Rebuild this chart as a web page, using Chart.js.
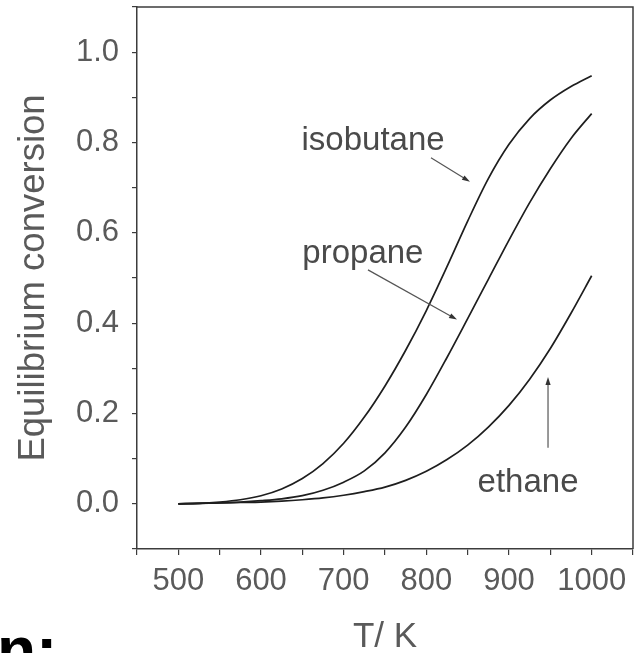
<!DOCTYPE html>
<html>
<head>
<meta charset="utf-8">
<script src="https://cdn.jsdelivr.net/npm/chart.js@4"></script>
<style>
  html, body { margin: 0; padding: 0; background: #ffffff; }
  #wrap { width: 634px; height: 653px; position: relative; }
</style>
</head>
<body>
<div id="wrap"><canvas id="c" width="634" height="653"></canvas></div>
<script>
// ---- data ----
const temperatures = [500, 525, 550, 575, 600, 625, 650, 675, 700, 725, 750, 775, 800, 825, 850, 875, 900, 925, 950, 975, 1000];
const isobutane = [0.000, 0.001, 0.004, 0.009, 0.018, 0.033, 0.056, 0.089, 0.134, 0.192, 0.261, 0.340, 0.428, 0.525, 0.626, 0.720, 0.796, 0.853, 0.894, 0.924, 0.948];
const propane   = [0.000, 0.001, 0.002, 0.004, 0.007, 0.011, 0.018, 0.030, 0.048, 0.073, 0.113, 0.170, 0.242, 0.324, 0.410, 0.497, 0.584, 0.667, 0.742, 0.809, 0.864];
const ethane    = [0.000, 0.001, 0.002, 0.003, 0.004, 0.006, 0.009, 0.013, 0.019, 0.027, 0.037, 0.052, 0.072, 0.098, 0.130, 0.170, 0.218, 0.276, 0.344, 0.422, 0.505];
const seriesNames = ['isobutane', 'propane', 'ethane'];
const xTickLabels = ['500', '600', '700', '800', '900', '1000'];
const yTickLabels = ['0.0', '0.2', '0.4', '0.6', '0.8', '1.0'];
const xTitle = 'T/ K';
const yTitle = 'Equilibrium conversion';

const toPts = (arr) => temperatures.map((t, i) => ({ x: t, y: arr[i] }));

// annotation placement in data coordinates
const labelSpecs = [
  { text: seriesNames[0], x: 649, y: 0.784 },
  { text: seriesNames[1], x: 650, y: 0.534 },
  { text: seriesNames[2], x: 862, y: 0.027 }
];
const arrowSpecs = [
  { x0: 805.6, y0: 0.766, x1: 852.8, y1: 0.713 },
  { x0: 729.4, y0: 0.518, x1: 837.1, y1: 0.408 },
  { x0: 947.2, y0: 0.124, x1: 947.2, y1: 0.281 }
];

const FONT = "'Liberation Sans', Arial, Helvetica, sans-serif";
const TEXT = '#5a5a5a';
const AXIS = '#3c3c3c';

const overlay = {
  id: 'overlay',
  afterDatasetsDraw(chart) {
    const { ctx, chartArea: a, scales: { x, y } } = chart;
    ctx.save();
    // frame top + right
    ctx.strokeStyle = AXIS;
    ctx.lineWidth = 1.5;
    ctx.beginPath();
    ctx.moveTo(a.left, a.top);
    ctx.lineTo(a.right, a.top);
    ctx.lineTo(a.right, a.bottom);
    ctx.stroke();
    // labels
    ctx.fillStyle = '#4a4a4a';
    ctx.font = "33px " + FONT;
    ctx.textBaseline = 'alphabetic';
    ctx.textAlign = 'left';
    labelSpecs.forEach(l => ctx.fillText(l.text, x.getPixelForValue(l.x), y.getPixelForValue(l.y)));
    // arrows
    ctx.strokeStyle = '#555';
    ctx.fillStyle = '#333';
    ctx.lineWidth = 1.2;
    arrowSpecs.forEach(s => {
      const px0 = x.getPixelForValue(s.x0), py0 = y.getPixelForValue(s.y0);
      const px1 = x.getPixelForValue(s.x1), py1 = y.getPixelForValue(s.y1);
      const ang = Math.atan2(py1 - py0, px1 - px0);
      const L = 8, W = 2.6;
      ctx.beginPath();
      ctx.moveTo(px0, py0);
      ctx.lineTo(px1 - Math.cos(ang) * L * 0.6, py1 - Math.sin(ang) * L * 0.6);
      ctx.stroke();
      ctx.beginPath();
      ctx.moveTo(px1, py1);
      ctx.lineTo(px1 - Math.cos(ang) * L - Math.sin(ang) * W, py1 - Math.sin(ang) * L + Math.cos(ang) * W);
      ctx.lineTo(px1 - Math.cos(ang) * L + Math.sin(ang) * W, py1 - Math.sin(ang) * L - Math.cos(ang) * W);
      ctx.closePath();
      ctx.fill();
    });
    // cropped caption fragment at bottom-left
    ctx.fillStyle = '#000';
    ctx.font = "bold 64px " + FONT;
    ctx.fillText('n:', -3, 672);
    ctx.restore();
  }
};

const lineStyle = { borderColor: '#1e1e1e', borderWidth: 1.7, pointRadius: 0, fill: false, cubicInterpolationMode: 'monotone' };

new Chart(document.getElementById('c'), {
  type: 'line',
  data: {
    datasets: [
      Object.assign({ label: seriesNames[0], data: toPts(isobutane) }, lineStyle),
      Object.assign({ label: seriesNames[1], data: toPts(propane) }, lineStyle),
      Object.assign({ label: seriesNames[2], data: toPts(ethane) }, lineStyle)
    ]
  },
  options: {
    responsive: false,
    animation: false,
    devicePixelRatio: 1,
    layout: { padding: { top: 7, right: 1, left: 0, bottom: 0 } },
    plugins: { legend: { display: false }, tooltip: { enabled: false } },
    scales: {
      x: {
        type: 'linear', min: 450, max: 1050,
        afterFit: s => { s.height = 104; s.paddingLeft = 0; s.paddingRight = 0; },
        ticks: {
          stepSize: 50, autoSkip: false, maxRotation: 0, padding: 8,
          color: TEXT, font: { family: FONT, size: 31 },
          callback: v => { const i = xTickLabels.indexOf(String(v)); return i >= 0 ? xTickLabels[i] : ''; }
        },
        grid: { drawOnChartArea: false, drawTicks: true, tickLength: 6, color: AXIS, lineWidth: 1.2 },
        border: { color: AXIS, width: 1.5 },
        title: { display: true, text: xTitle, color: TEXT, font: { family: FONT, size: 35, lineHeight: 1 }, padding: { top: 0, bottom: -2 } }
      },
      y: {
        type: 'linear', min: -0.1, max: 1.1,
        afterFit: s => { s.width = 137; s.paddingTop = 0; s.paddingBottom = 0; },
        ticks: {
          stepSize: 0.1, autoSkip: false, padding: 13,
          color: TEXT, font: { family: FONT, size: 31 },
          callback: v => { const r = Math.round(v * 10); return (r >= 0 && r <= 10 && r % 2 === 0) ? yTickLabels[r / 2] : ''; }
        },
        grid: { drawOnChartArea: false, drawTicks: true, tickLength: 5, color: AXIS, lineWidth: 1.2 },
        border: { color: AXIS, width: 1.5 },
        title: { display: true, text: yTitle, color: TEXT, font: { family: FONT, size: 36.5, lineHeight: 1 }, padding: { top: 16, bottom: 0 } }
      }
    }
  },
  plugins: [overlay]
});
</script>
</body>
</html>
